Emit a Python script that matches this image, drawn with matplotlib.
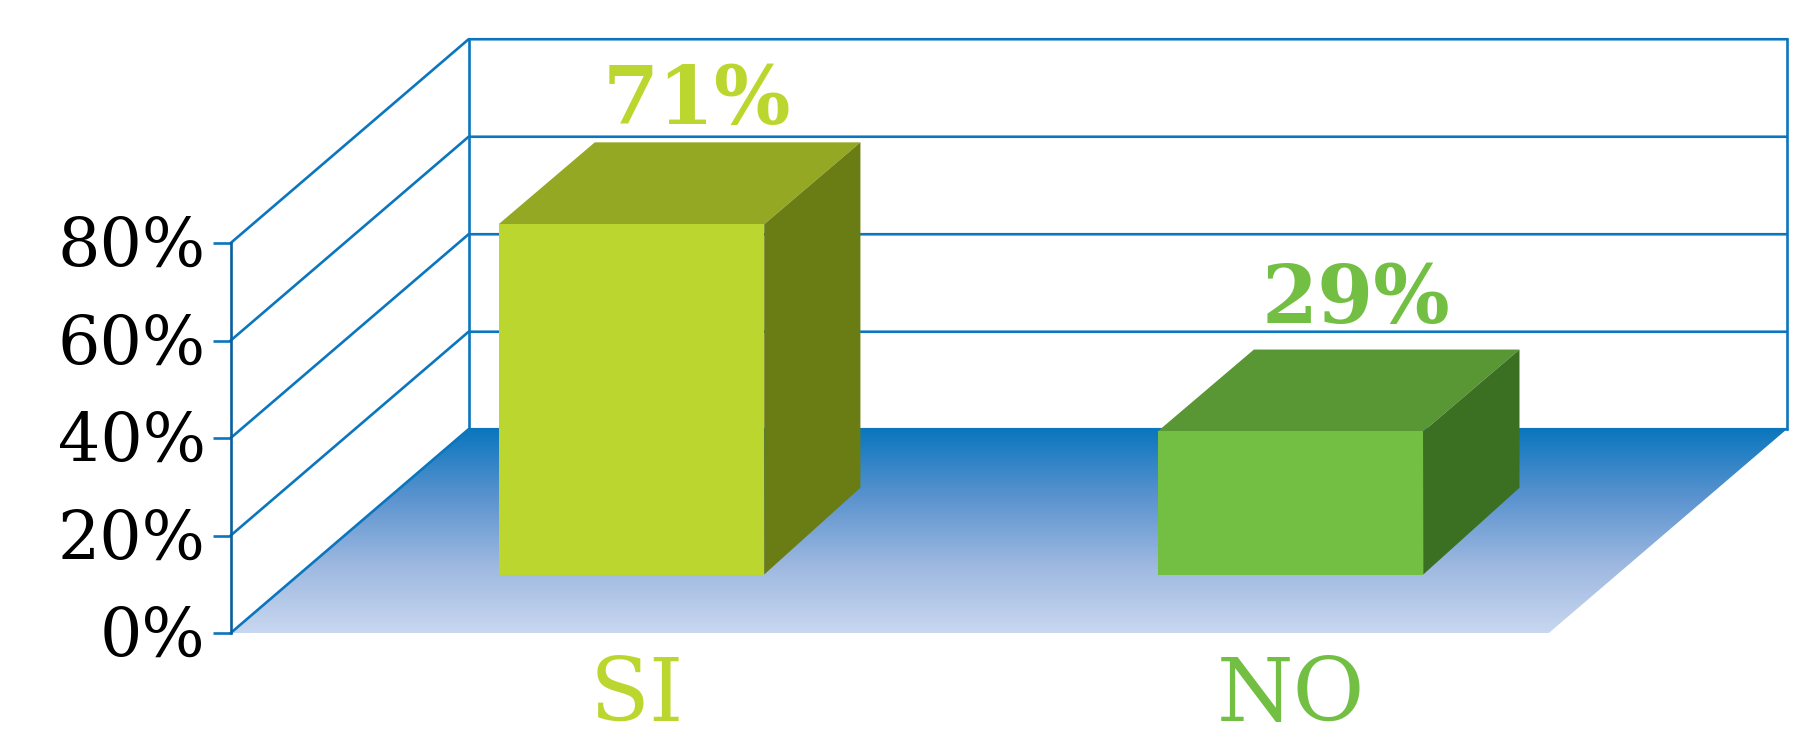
import numpy as np
import matplotlib
matplotlib.use('Agg')
import matplotlib.pyplot as plt
from matplotlib.colors import LinearSegmentedColormap
from matplotlib.patches import Polygon
from matplotlib.transforms import ScaledTranslation

categories = ['SI', 'NO']
values = [71, 29]
value_labels = ['71%', '29%']
tick_values = [0, 20, 40, 60, 80]
tick_labels = ['0%', '20%', '40%', '60%', '80%']

front_colors = ['#BBD72F', '#72BF44']
top_colors = ['#94A823', '#589734']
side_colors = ['#6A7D14', '#3B6F22']

LINE = '#0B76BE'

# depth of the fake 3d box, in axis units
wall_dx, wall_dy = 0.361, 41.8
bar_dx, bar_dy = 0.146, 16.8
side_dy = 17.8
floor_left, floor_right = -0.608, 1.392
bar_width = 0.403
bar_base = 12.0
bar_scale = 1.012
label_gaps = [3.8, 5.5]

plt.rcParams['font.family'] = ['DejaVu Serif']

fig = plt.figure(figsize=(17.94, 7.41), dpi=100)
ax = fig.add_axes([0, 0, 1, 1])
ax.patch.set_alpha(0)

# floor with vertical gradient
cmap = LinearSegmentedColormap.from_list('floor', ['#0B76BE', '#5A93CF', '#9DB8E0', '#C9D7F0'])
grad = np.linspace(0, 1, 256).reshape(-1, 1)
img = ax.imshow(grad, cmap=cmap, aspect='auto', zorder=1, origin='upper',
                extent=(floor_left, floor_right + wall_dx, 0, wall_dy))
floor = Polygon([(floor_left, 0), (floor_left + wall_dx, wall_dy),
                 (floor_right + wall_dx, wall_dy), (floor_right, 0)],
                closed=True, fc='none', ec='none', transform=ax.transData)
ax.add_patch(floor)
img.set_clip_path(floor)

# grid lines on side and back wall
for v in tick_values:
    ax.plot([floor_left, floor_left + wall_dx, floor_right + wall_dx],
            [v, v + wall_dy, v + wall_dy], color=LINE, lw=1.9, zorder=2)
ax.plot([floor_left + wall_dx] * 2, [wall_dy, tick_values[-1] + wall_dy], color=LINE, lw=1.9, zorder=2)
ax.plot([floor_right + wall_dx] * 2, [wall_dy, tick_values[-1] + wall_dy], color=LINE, lw=1.9, zorder=2)

# bars
for i, v in enumerate(values):
    x0 = i - bar_width / 2
    x1 = i + bar_width / 2
    y0 = bar_base
    y1 = bar_base + v * bar_scale
    ax.add_patch(Polygon([(x0, y1), (x1, y1), (x1 + bar_dx, y1 + bar_dy), (x0 + bar_dx, y1 + bar_dy)],
                         fc=top_colors[i], ec='none', zorder=3))
    ax.add_patch(Polygon([(x1, y0), (x1 + bar_dx, y0 + side_dy), (x1 + bar_dx, y1 + bar_dy), (x1, y1)],
                         fc=side_colors[i], ec='none', zorder=3))
    ax.add_patch(Polygon([(x0, y0), (x1, y0), (x1, y1), (x0, y1)],
                         fc=front_colors[i], ec='none', zorder=4))
    ax.text(i + bar_dx / 2 + 0.026, y1 + bar_dy + label_gaps[i], value_labels[i], color=front_colors[i],
            fontsize=58, fontweight='bold', ha='center', va='baseline', zorder=5)

# limits keep the picture layout, 4.875 px per percent
ax.set_xlim(-0.958, 1.764)
ax.set_ylim(-22.15, 129.85)

for s in ['top', 'right']:
    ax.spines[s].set_visible(False)
ax.spines['bottom'].set_position(('data', 0))
ax.spines['bottom'].set_visible(False)
ax.spines['left'].set_position(('data', floor_left))
ax.spines['left'].set_bounds(0, 80)
ax.spines['left'].set_color('#0A5F9E')
ax.spines['left'].set_linewidth(1.9)

ax.set_yticks(tick_values)
ax.set_yticklabels(tick_labels, fontsize=48, color='black')
ax.tick_params(axis='y', length=13, width=1.9, color=LINE, pad=5)
# labels sit a little above their ticks
shift = ScaledTranslation(0, 2 / 72, fig.dpi_scale_trans)
for lab in ax.get_yticklabels():
    lab.set_transform(lab.get_transform() + shift)

ax.set_xticks([0.009, 1])
ax.set_xticklabels(categories, fontsize=63)
ax.tick_params(axis='x', length=0, pad=15)
for lab, c in zip(ax.get_xticklabels(), front_colors):
    lab.set_color(c)

fig.savefig('out.png', dpi=100)
